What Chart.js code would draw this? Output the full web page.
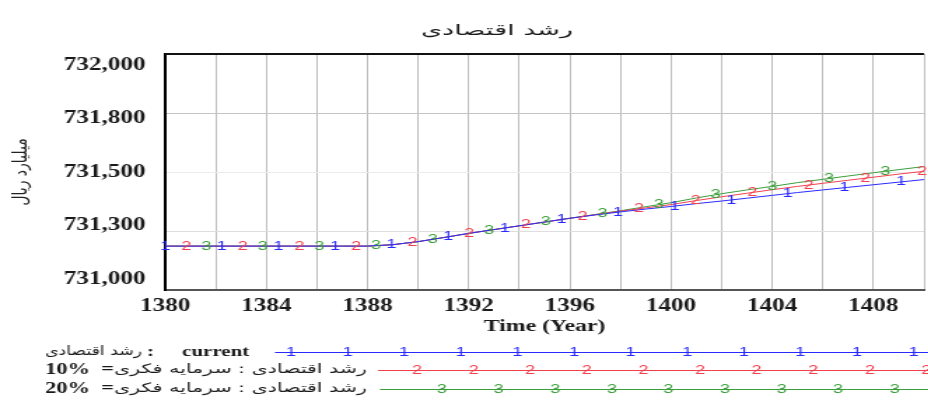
<!DOCTYPE html>
<html>
<head>
<meta charset="utf-8">
<script src="https://cdn.jsdelivr.net/npm/chart.js@4.4.0/dist/chart.umd.min.js"></script>
<style>
  html, body { margin: 0; padding: 0; background: #fff; }
  #frame { width: 928px; height: 400px; overflow: hidden; }
  /* the original picture is stretched sideways, so the chart is drawn narrow and widened */
  #stretch { width: 666px; height: 400px; transform: scaleX(1.4); transform-origin: 0 0; }
</style>
</head>
<body>
<div id="frame"><div id="stretch"><canvas id="growthChart"></canvas></div></div>
<script>
const chartTitle = "رشد اقتصادی";
const yTitle = "میلیارد ریال";
const xTitle = "Time (Year)";
const varName = "رشد اقتصادی";
const runNames = ["current", "سرمایه فکری=10%", "سرمایه فکری=20%"];
const markerLabels = ["1", "2", "3"];
const runColors = ["#2a2aff", "#f2404e", "#3a9e3a"];

const years = [1380, 1381, 1382, 1383, 1384, 1385, 1386, 1387, 1388, 1389,
  1390, 1391, 1392, 1393, 1394, 1395, 1396, 1397, 1398, 1399,
  1400, 1401, 1402, 1403, 1404, 1405, 1406, 1407, 1408, 1409, 1410];

const current = [731186, 731186, 731186, 731186, 731186, 731186, 731186, 731186, 731186, 731192,
  731205, 731222, 731240, 731256, 731272, 731288, 731304, 731318, 731331, 731343,
  731354, 731366, 731377, 731389, 731401, 731413, 731424, 731435, 731446, 731457, 731468];

const capital10 = [731186, 731186, 731186, 731186, 731186, 731186, 731186, 731186, 731186, 731192,
  731205, 731222, 731240, 731256, 731272, 731288, 731304, 731319, 731334, 731348,
  731362, 731379, 731395, 731410, 731425, 731439, 731452, 731465, 731478, 731491, 731503];

const capital20 = [731186, 731186, 731186, 731186, 731186, 731186, 731186, 731186, 731186, 731192,
  731205, 731222, 731240, 731256, 731272, 731288, 731304, 731320, 731336, 731353,
  731370, 731390, 731408, 731424, 731439, 731455, 731469, 731483, 731497, 731510, 731523];

const yTickValues = [731000, 731250, 731500, 731750, 732000];
const yTickLabels = ["731,000", "731,300", "731,500", "731,800", "732,000"];
const xTickLabels = [1380, 1384, 1388, 1392, 1396, 1400, 1404, 1408];

const S = 1.4; // sideways stretch
const markerStep = 56.6 / S;
const markerOffsets = [0, 21 / S, 41 / S];
const serif = "'Liberation Serif', 'Times New Roman', serif";
const arabic = "'DejaVu Sans', sans-serif";

// draw text squeezed or widened to a given width, left edge at x
function fitText(ctx, text, xLeft, y, width) {
  const w = ctx.measureText(text).width;
  ctx.save();
  ctx.translate(xLeft, y);
  ctx.scale(width / w, 1);
  ctx.textAlign = "left";
  ctx.fillText(text, 0, 0);
  ctx.restore();
}

// numbered line markers, title and legend, drawn the way Vensim does
const vensimPlugin = {
  id: "vensim",
  beforeDatasetsDraw(chart) {
    const { ctx, chartArea: a } = chart;
    ctx.save();
    ctx.strokeStyle = "#111";
    ctx.lineWidth = 2;
    ctx.beginPath();
    ctx.moveTo(a.left, a.top);
    ctx.lineTo(a.right, a.top);
    ctx.stroke();
    ctx.restore();
  },
  afterDatasetsDraw(chart) {
    const { ctx, chartArea: a } = chart;
    ctx.save();
    ctx.font = "13px 'Liberation Sans', sans-serif";
    ctx.textAlign = "center";
    ctx.textBaseline = "middle";
    chart.data.datasets.forEach((ds, i) => {
      const pts = chart.getDatasetMeta(i).data;
      ctx.fillStyle = ds.borderColor;
      for (let x = a.left + markerOffsets[i]; x <= a.right; x += markerStep) {
        let j = 1;
        while (j < pts.length - 1 && pts[j].x < x) j++;
        const p0 = pts[j - 1], p1 = pts[j];
        const t = (x - p0.x) / (p1.x - p0.x);
        ctx.fillText(markerLabels[i], x, p0.y + (p1.y - p0.y) * t);
      }
    });
    ctx.restore();
  },
  afterDraw(chart) {
    const { ctx } = chart;
    ctx.save();
    ctx.direction = "ltr";
    ctx.fillStyle = "#1a1a1a";
    ctx.textBaseline = "middle";

    // title
    ctx.font = "15px " + arabic;
    fitText(ctx, chartTitle, 421 / S, 31, 152 / S);

    // legend
    const rowY = [352, 370, 389];
    const lineStart = [275 / S, 378 / S, 380 / S];
    const firstMark = [291 / S, 417 / S, 442 / S];
    chart.data.datasets.forEach((ds, i) => {
      const y = rowY[i];
      ctx.fillStyle = "#1a1a1a";
      ctx.textAlign = "left";
      if (i === 0) {
        ctx.font = "13px " + arabic;
        fitText(ctx, varName, 45 / S, y, 97 / S);
        ctx.font = "bold 15px " + serif;
        ctx.fillText(":", 147 / S, y);
        ctx.fillText(runNames[i], 182 / S, y);
      } else {
        const parts = runNames[i].split("=");
        ctx.font = "bold 16px " + serif;
        ctx.fillText(parts[1], 45 / S, y);
        ctx.fillText("=", 101 / S, y);
        ctx.font = "13px " + arabic;
        fitText(ctx, varName + " : " + parts[0], 114 / S, y, (367 - 114) / S);
      }
      ctx.strokeStyle = ds.borderColor;
      ctx.lineWidth = 1;
      ctx.beginPath();
      ctx.moveTo(lineStart[i], y + 0.5);
      ctx.lineTo(chart.width, y + 0.5);
      ctx.stroke();
      ctx.fillStyle = ds.borderColor;
      ctx.font = "13px 'Liberation Sans', sans-serif";
      ctx.textAlign = "center";
      for (let x = firstMark[i]; x < chart.width; x += markerStep) {
        ctx.fillText(markerLabels[i], x, y);
      }
    });
    ctx.restore();
  }
};

function toPoints(values) {
  return years.map((yr, k) => ({ x: yr, y: values[k] }));
}

const series = [current, capital10, capital20];

new Chart(document.getElementById("growthChart"), {
  type: "line",
  data: {
    datasets: series.map((values, i) => ({
      label: varName + " : " + runNames[i],
      data: toPoints(values),
      borderColor: runColors[i],
      borderWidth: 1,
      pointRadius: 0,
      tension: 0
    }))
  },
  options: {
    responsive: true,
    maintainAspectRatio: false,
    animation: false,
    layout: { padding: { top: 54, right: 1, bottom: 60, left: 0 } },
    plugins: {
      legend: { display: false },
      tooltip: { enabled: false },
      title: { display: false }
    },
    scales: {
      x: {
        type: "linear",
        min: 1380,
        max: 1410,
        ticks: {
          stepSize: 2,
          autoSkip: false,
          maxRotation: 0,
          padding: 6,
          color: "#1a1a1a",
          font: { family: serif, size: 18, weight: "bold" },
          callback: v => (xTickLabels.includes(v) ? String(v) : "")
        },
        grid: { color: "#bdbdbd", lineWidth: 1, drawTicks: false },
        border: { display: true, color: "#555", width: 2 },
        title: {
          display: true,
          text: xTitle,
          color: "#1a1a1a",
          font: { family: serif, size: 17, weight: "bold" },
          padding: { top: 0, bottom: 3 }
        },
        afterFit: s => { s.height = 50; }
      },
      // value axis: grid only
      y: {
        min: 731000,
        max: 732000,
        afterBuildTicks: s => { s.ticks = yTickValues.map(v => ({ value: v })); },
        ticks: { display: false },
        grid: {
          drawTicks: false,
          color: c => ["#c8c8c8", "#dedede", "#ebebeb", "#c4c4c4", "#222"][c.index]
        },
        border: { display: false },
        afterFit: s => { s.width = 0; }
      },
      // label axis: Vensim spreads its labels a little inside the plot edges
      yLabels: {
        position: "left",
        min: 730949,
        max: 732051,
        afterBuildTicks: s => { s.ticks = yTickValues.map(v => ({ value: v })); },
        ticks: {
          padding: 14,
          color: "#1a1a1a",
          font: { family: serif, size: 18, weight: "bold" },
          callback: (v, idx) => yTickLabels[idx]
        },
        grid: { display: false, drawTicks: false },
        border: { display: true, color: "#000", width: 2 },
        title: {
          display: true,
          text: yTitle,
          color: "#222",
          font: { family: arabic, size: 14 },
          padding: { top: 7, bottom: 0 }
        },
        afterFit: s => { s.width = 118; }
      }
    }
  },
  plugins: [vensimPlugin]
});
</script>
</body>
</html>
